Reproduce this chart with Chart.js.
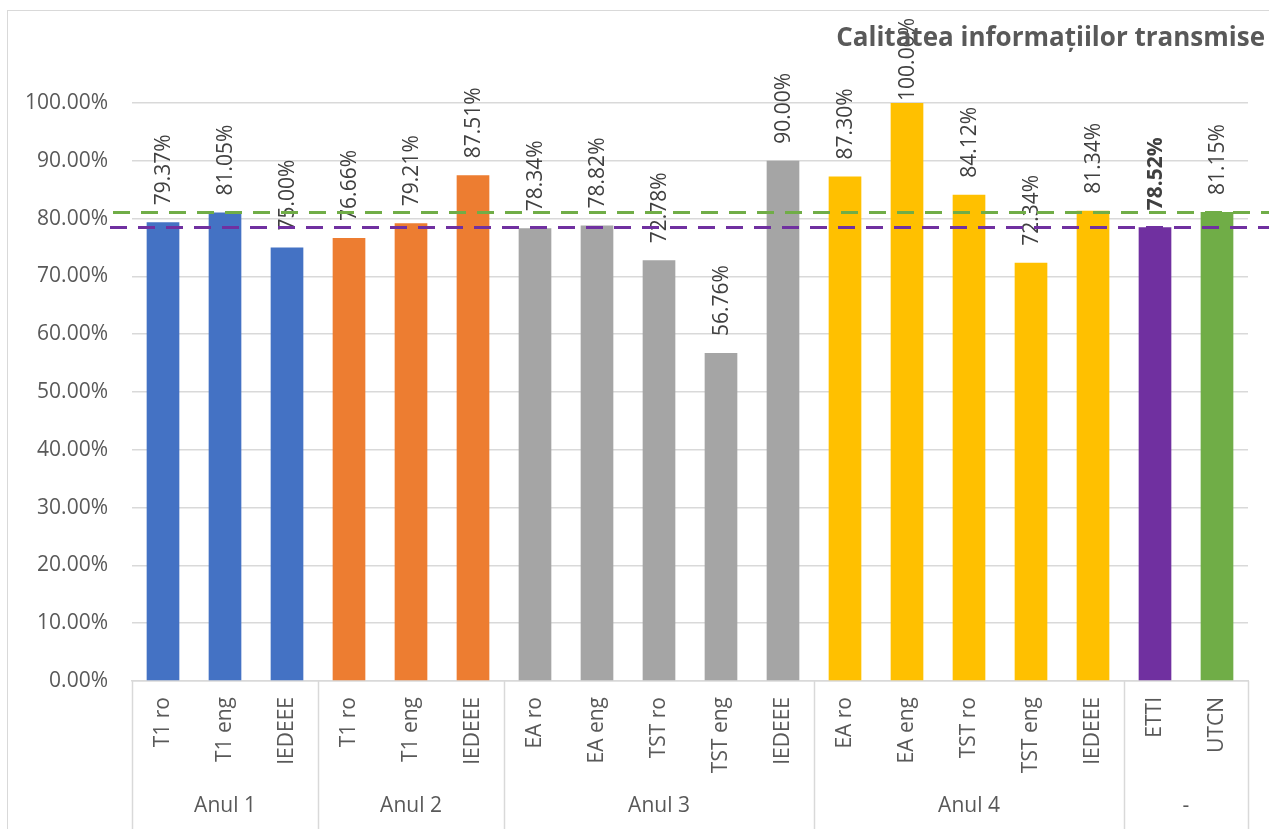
<!DOCTYPE html>
<html><head><meta charset="utf-8">
<script src="https://cdn.jsdelivr.net/npm/chart.js@4.4.1/dist/chart.umd.min.js"></script>
<style>
html,body{margin:0;padding:0;background:#fff;overflow:hidden}
#wrap{position:relative;width:1269px;height:829px;overflow:hidden}
#frame{position:absolute;left:7px;top:10px;width:1300px;height:900px;border:1px solid #d9d9d9;box-sizing:border-box}
canvas{position:absolute;left:0;top:0}
</style></head><body>
<div id="wrap"><div id="frame"></div><canvas id="c" width="1269" height="829"></canvas></div>
<script>
const categories = ['T1 ro','T1 eng','IEDEEE','T1 ro','T1 eng','IEDEEE','EA ro','EA eng','TST ro','TST eng','IEDEEE','EA ro','EA eng','TST ro','TST eng','IEDEEE','ETTI','UTCN'];
const groups = ['Anul 1','Anul 2','Anul 3','Anul 4','-'];
const groupSizes = [3,3,5,5,2];
const values = [79.37,81.05,75.00,76.66,79.21,87.51,78.34,78.82,72.78,56.76,90.00,87.30,100.00,84.12,72.34,81.34,78.52,81.15];
const groupColors = ['#4472c4','#ed7d31','#a5a5a5','#ffc000'];
const summaryColors = ['#7030a0','#70ad47'];
const referenceValues = [81.15, 78.52];
const referenceColors = ['#70ad47','#7030a0'];
const boldLabels = ['ETTI'];
const titleText = 'Calitatea informațiilor transmise';

const FONT = '"Open Sans", "DejaVu Sans", sans-serif';
const barColors = [];
groupSizes.forEach((n, g) => {
  for (let i = 0; i < n; i++) {
    if (g < groupColors.length) barColors.push(groupColors[g]);
    else barColors.push(summaryColors[i]);
  }
});

const overlay = {
  id: 'overlay',
  afterDatasetsDraw(chart) {
    const ctx = chart.ctx;
    const meta = chart.getDatasetMeta(0);
    ctx.save();
    meta.data.forEach((bar, i) => {
      const txt = values[i].toFixed(2) + '%';
      const bold = boldLabels.includes(categories[i]);
      ctx.font = (bold ? 'bold ' : '') + '21px ' + FONT;
      const w = ctx.measureText(txt).width;
      let by = bar.y - 17;
      if (by - w < 18) by = 18 + w;
      ctx.save();
      ctx.translate(bar.x + 1, by);
      ctx.rotate(-Math.PI / 2);
      ctx.fillStyle = '#404040';
      ctx.textAlign = 'left';
      ctx.textBaseline = 'middle';
      ctx.fillText(txt, 0, 0);
      ctx.restore();
    });
    ctx.restore();
  },
  afterDraw(chart) {
    const ctx = chart.ctx;
    const xs = chart.scales.x, ys = chart.scales.y;
    const area = chart.chartArea;
    ctx.save();
    const bounds = [area.left];
    let idx = 0;
    groupSizes.forEach((n) => {
      idx += n;
      if (idx < categories.length) {
        bounds.push((xs.getPixelForValue(idx - 1) + xs.getPixelForValue(idx)) / 2);
      }
    });
    bounds.push(area.right);
    ctx.strokeStyle = '#d9d9d9';
    ctx.lineWidth = 1.5;
    bounds.forEach(b => {
      ctx.beginPath();
      ctx.moveTo(Math.round(b) + 0.5, area.bottom);
      ctx.lineTo(Math.round(b) + 0.5, 829);
      ctx.stroke();
    });
    ctx.fillStyle = '#595959';
    ctx.font = '21px ' + FONT;
    ctx.textAlign = 'center';
    ctx.textBaseline = 'middle';
    groups.forEach((g, k) => {
      ctx.fillText(g, (bounds[k] + bounds[k + 1]) / 2, 806);
    });
    ctx.lineWidth = 3;
    ctx.setLineDash([17, 11]);
    referenceValues.forEach((v, k) => {
      const y = Math.round(ys.getPixelForValue(v)) + 0.5;
      ctx.strokeStyle = referenceColors[k];
      ctx.beginPath();
      ctx.moveTo(k === 0 ? 113 : 110, y);
      ctx.lineTo(1269, y);
      ctx.stroke();
    });
    ctx.setLineDash([]);
    ctx.fillStyle = '#595959';
    ctx.font = 'bold 26px ' + FONT;
    ctx.textAlign = 'right';
    ctx.textBaseline = 'middle';
    ctx.fillText(titleText, 1265, 39);
    ctx.restore();
  }
};

new Chart(document.getElementById('c'), {
  type: 'bar',
  data: {
    labels: categories,
    datasets: [{
      data: values,
      backgroundColor: barColors,
      borderWidth: 0,
      categoryPercentage: 1,
      barPercentage: 0.527
    }]
  },
  options: {
    responsive: false,
    animation: false,
    devicePixelRatio: 1,
    layout: { padding: { left: 0, top: 103, right: 21, bottom: 0 } },
    plugins: { legend: { display: false }, tooltip: { enabled: false }, title: { display: false } },
    scales: {
      y: {
        min: 0, max: 100,
        ticks: {
          stepSize: 10,
          callback: v => Number(v).toFixed(2) + '%',
          font: { family: FONT, size: 21 },
          color: '#595959',
          padding: 24
        },
        grid: { color: '#d9d9d9', drawTicks: false, lineWidth: 1.5 },
        border: { display: false },
        afterFit: s => { s.width = 132; }
      },
      x: {
        ticks: {
          minRotation: 90, maxRotation: 90, autoSkip: false,
          padding: 16,
          font: { family: FONT, size: 21 },
          color: '#595959'
        },
        grid: { display: false, drawTicks: false },
        border: { display: true, color: '#d9d9d9', width: 1.5 },
        afterFit: s => { s.height = 148; }
      }
    }
  },
  plugins: [overlay]
});
</script>
</body></html>
